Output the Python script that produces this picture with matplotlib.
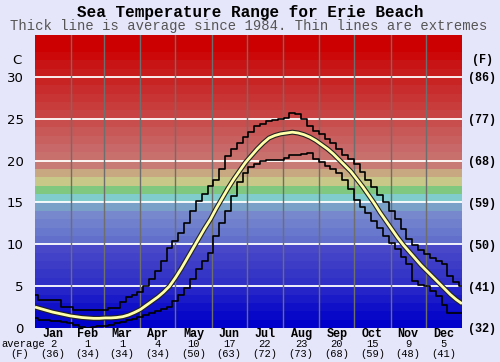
import matplotlib
matplotlib.use('Agg')
import matplotlib.pyplot as plt
from matplotlib.transforms import blended_transform_factory

days = list(range(0, 366, 5))
avg_temp = [2.5, 2.3, 2.1, 1.9, 1.75, 1.6, 1.45, 1.35, 1.25, 1.2, 1.15, 1.15, 1.2, 1.2, 1.25,
            1.35, 1.55, 1.85, 2.2, 2.7, 3.2, 3.7, 4.3, 5.0, 6.0, 7.1, 8.3, 9.5, 10.7, 11.9,
            13.0, 14.3, 15.5, 16.7, 17.8, 18.8, 19.8, 20.6, 21.4, 22.1, 22.7, 23.0, 23.2, 23.3,
            23.4, 23.3, 23.1, 22.8, 22.4, 21.9, 21.4, 20.8, 20.1, 19.4, 18.7, 17.8, 16.9, 15.9,
            14.9, 13.8, 12.8, 11.8, 10.8, 9.9, 9.1, 8.3, 7.5, 6.8, 6.1, 5.4, 4.7, 4.0, 3.4, 2.9]
max_temp = [3.9, 3.35, 3.35, 3.35, 3.35, 2.55, 2.55, 2.15, 2.15, 2.15, 2.15, 2.15, 2.15, 2.4, 2.4,
            3.15, 3.7, 4.0, 4.35, 5.0, 5.9, 6.8, 8.0, 9.6, 10.4, 11.3, 12.5, 14.0, 15.2, 16.0,
            17.0, 17.7, 19.0, 20.5, 21.4, 22.1, 22.8, 23.4, 24.1, 24.4, 24.7, 24.9, 25.0, 25.1,
            25.7, 25.6, 25.0, 24.1, 23.6, 23.2, 22.6, 22.1, 21.4, 20.7, 20.2, 19.6, 18.6, 17.7,
            16.8, 15.9, 15.0, 14.0, 13.0, 11.8, 10.6, 9.9, 9.3, 8.9, 8.4, 8.0, 7.6, 6.2, 5.5, 5.0]
min_temp = [1.15, 1.0, 0.9, 0.88, 0.8, 0.7, 0.55, 0.4, 0.1, 0.0, 0.1, 0.2, 0.2, 0.4, 0.55,
            0.7, 0.9, 1.1, 1.3, 1.5, 1.75, 2.0, 2.3, 2.55, 3.2, 4.0, 4.8, 5.8, 7.0, 8.0,
            9.0, 11.0, 12.5, 14.0, 15.8, 17.5, 18.5, 19.2, 19.6, 19.9, 20.1, 20.1, 20.1, 20.3,
            20.7, 20.7, 20.8, 20.9, 20.2, 19.8, 19.4, 19.0, 18.5, 17.7, 16.6, 15.3, 14.5, 13.8,
            12.8, 11.9, 11.0, 10.2, 9.4, 8.5, 7.6, 5.6, 5.1, 5.0, 4.4, 3.8, 2.8, 1.8, 1.8, 1.8]

months = ['Jan', 'Feb', 'Mar', 'Apr', 'May', 'Jun', 'Jul', 'Aug', 'Sep', 'Oct', 'Nov', 'Dec']
month_days = [31, 28, 31, 30, 31, 30, 31, 31, 30, 31, 30, 31]
month_avg_c = ['2', '1', '1', '4', '10', '17', '22', '23', '20', '15', '9', '5']
month_avg_f = ['(36)', '(34)', '(34)', '(34)', '(50)', '(63)', '(72)', '(73)', '(68)', '(59)', '(48)', '(41)']
c_ticks = [0, 5, 10, 15, 20, 25, 30]
f_labels = ['(32)', '(41)', '(50)', '(59)', '(68)', '(77)', '(86)']

# one colour per 1 degree band, from 0 C upwards
band_colors = ['#0000cc', '#0808c8', '#1010c8', '#1a1ac8', '#2424c8',
               '#3030c6', '#3535c6', '#3c3cc6', '#4242c8', '#4848c8',
               '#6270cc', '#6878cc', '#7080cc', '#7888cc', '#7aa2c8',
               '#80cccc', '#80c880', '#c8c888', '#c8a880', '#c87a74',
               '#c8706c', '#c86868', '#c86060', '#c85858', '#c84e4e',
               '#c84444', '#c83c3c', '#c83434', '#c82c2c', '#c82424',
               '#c81c1c', '#c81414', '#cc0808', '#cc0000', '#cc0000']

bg = '#e6e6fa'
mono = 'Liberation Mono'

fig = plt.figure(figsize=(5, 3.62), dpi=100, facecolor=bg)
ax = fig.add_axes([0.07, 0.094, 0.854, 0.809])

for i, col in enumerate(band_colors):
    ax.axhspan(i, i + 1, color=col, lw=0, zorder=0)

for t in c_ticks[1:]:
    ax.axhline(t, color='white', lw=1.3, zorder=1)

edge = 0
for md in month_days[:-1]:
    edge += md
    ax.axvline(edge, color='#6e6e6e', lw=1, zorder=1)

ax.plot(days, max_temp, color='black', lw=1.2, drawstyle='steps-mid', zorder=3)
ax.plot(days, min_temp, color='black', lw=1.2, drawstyle='steps-mid', zorder=3)
ax.plot(days, avg_temp, color='#222222', lw=3.6, zorder=4, solid_capstyle='butt')
ax.plot(days, avg_temp, color='#ffffaa', lw=2.0, zorder=5, solid_capstyle='butt')

ax.set_xlim(0, 365)
ax.set_ylim(0, 35)
for s in ax.spines.values():
    s.set_visible(False)

ax.set_xticks([])
ax.set_yticks(c_ticks)
ax.set_yticklabels([str(t) for t in c_ticks], fontsize=9.5, family='DejaVu Sans')
ax.tick_params(axis='y', length=0, pad=8)

ax2 = ax.twinx()
ax2.set_ylim(0, 35)
ax2.set_yticks(c_ticks)
ax2.set_yticklabels(f_labels, fontsize=8.5, family=mono, fontweight='bold')
ax2.tick_params(axis='y', length=0, pad=4)
for s in ax2.spines.values():
    s.set_visible(False)

# unit labels
fig.text(0.034, 0.833, 'C', ha='center', va='center', fontsize=9.5, family='DejaVu Sans')
fig.text(0.964, 0.833, '(F)', ha='center', va='center', fontsize=8.5, family=mono, fontweight='bold')

# month labels under the axis
tr = blended_transform_factory(ax.transData, fig.transFigure)
start = 0
for m, md, c, f in zip(months, month_days, month_avg_c, month_avg_f):
    mid = start + md / 2
    ax.text(mid, 0.077, m, transform=tr, ha='center', va='center', fontsize=8.5,
            family=mono, fontweight='bold')
    ax.text(mid, 0.049, c, transform=tr, ha='center', va='center', fontsize=7.5, family=mono)
    ax.text(mid, 0.022, f, transform=tr, ha='center', va='center', fontsize=7.5, family=mono)
    start += md
fig.text(0.046, 0.049, 'average', ha='center', va='center', fontsize=7.5, family=mono)
fig.text(0.04, 0.022, '(F)', ha='center', va='center', fontsize=7.5, family=mono)

fig.text(0.5, 0.966, 'Sea Temperature Range for Erie Beach', ha='center', va='center',
         fontsize=11.5, family=mono, fontweight='bold')
fig.text(0.497, 0.928, 'Thick line is average since 1984. Thin lines are extremes', ha='center',
         va='center', fontsize=10, family=mono, color='#555555')

fig.savefig('out.png', dpi=100, facecolor=bg)
